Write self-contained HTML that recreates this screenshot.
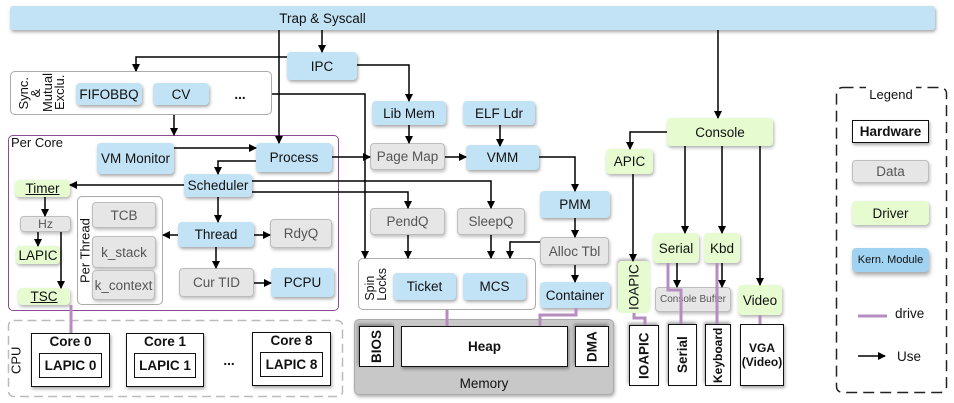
<!DOCTYPE html>
<html><head><meta charset="utf-8"><style>
body{margin:0;width:954px;height:403px;background:#fff;position:relative;overflow:hidden;font-family:"Liberation Sans",sans-serif;}
.b{position:absolute;box-sizing:border-box;display:flex;align-items:center;justify-content:center;font-size:13.5px;color:#111;border-radius:4px;white-space:nowrap;}
.k{background:#c2e3f5;box-shadow:1px 2px 3px rgba(0,0,0,.35);}
.d{background:#e6e6e6;border:1px solid #bdbdbd;color:#555;box-shadow:1px 2px 3px rgba(0,0,0,.25);}
.g{background:#e7fbd1;box-shadow:1px 2px 3px rgba(0,0,0,.3);}
.h{background:#fff;border:1.5px solid #111;border-radius:0;font-weight:bold;box-shadow:1px 2px 3px rgba(0,0,0,.35);}
.c{position:absolute;box-sizing:border-box;border-radius:5px;}
.v{writing-mode:vertical-rl;transform:rotate(180deg);}
svg{position:absolute;left:0;top:0;}
</style></head><body>
<div class="b k" style="left:10px;top:6px;width:925px;height:24px;padding-right:300px;border-radius:3px">Trap &amp; Syscall</div>

<div class="c" style="left:10px;top:71px;width:262px;height:44px;border:1px solid #aaa"></div>
<div class="b" style="left:10px;top:72px;width:64px;height:42px;font-size:13px;line-height:12px;flex-direction:row"><span class="v" style="text-align:center">Sync.<br>&amp;</span><span class="v" style="text-align:center">Mutual<br>Exclu.</span></div>
<div class="b k" style="left:76px;top:83px;width:66px;height:22px">FIFOBBQ</div>
<div class="b k" style="left:153px;top:83px;width:56px;height:22px">CV</div>
<div class="b" style="left:228px;top:83px;width:24px;height:22px;font-weight:bold">...</div>
<div class="b k" style="left:287px;top:52px;width:70px;height:28px">IPC</div>
<div class="b k" style="left:372px;top:101px;width:74px;height:24px">Lib Mem</div>
<div class="b k" style="left:463px;top:101px;width:72px;height:24px">ELF Ldr</div>

<div class="c" style="left:8px;top:135px;width:331px;height:176px;border:1.5px solid #8a4a94"></div>
<div class="b" style="left:11px;top:134px;height:16px;font-size:13px">Per Core</div>
<div class="b k" style="left:97px;top:143px;width:77px;height:31px">VM Monitor</div>
<div class="b k" style="left:256px;top:143px;width:76px;height:29px">Process</div>
<div class="b k" style="left:184px;top:174px;width:68px;height:23px">Scheduler</div>
<div class="b g" style="left:15px;top:180px;width:55px;height:17px;text-decoration:underline">Timer</div>
<div class="b d" style="left:20px;top:216px;width:51px;height:16px;font-size:12px">Hz</div>
<div class="b g" style="left:16px;top:246px;width:44px;height:18px">LAPIC</div>
<div class="b g" style="left:18px;top:288px;width:52px;height:17px;text-decoration:underline">TSC</div>
<div class="c" style="left:77px;top:196px;width:86px;height:109px;border:1px solid #aaa"></div>
<div class="b v" style="left:77px;top:196px;width:16px;height:109px;font-size:13px">Per Thread</div>
<div class="b d" style="left:92px;top:202px;width:64px;height:26px">TCB</div>
<div class="b d" style="left:92px;top:236px;width:64px;height:32px">k_stack</div>
<div class="b d" style="left:92px;top:270px;width:63px;height:30px">k_context</div>
<div class="b k" style="left:178px;top:222px;width:76px;height:25px">Thread</div>
<div class="b d" style="left:270px;top:219px;width:62px;height:29px">RdyQ</div>
<div class="b d" style="left:179px;top:268px;width:75px;height:29px">Cur TID</div>
<div class="b k" style="left:271px;top:268px;width:63px;height:29px">PCPU</div>

<div class="b d" style="left:370px;top:143px;width:75px;height:27px">Page Map</div>
<div class="b k" style="left:466px;top:145px;width:73px;height:25px">VMM</div>
<div class="b d" style="left:370px;top:208px;width:75px;height:27px">PendQ</div>
<div class="b d" style="left:457px;top:208px;width:68px;height:27px">SleepQ</div>
<div class="b k" style="left:540px;top:191px;width:70px;height:27px">PMM</div>
<div class="b d" style="left:540px;top:237px;width:69px;height:28px">Alloc Tbl</div>
<div class="b k" style="left:540px;top:282px;width:70px;height:26px">Container</div>
<div class="c" style="left:358px;top:258px;width:178px;height:52px;border:1px solid #aaa"></div>
<div class="b" style="left:359px;top:262px;width:34px;height:44px;font-size:12.5px;line-height:12px"><span class="v" style="text-align:left">Spin<br>Locks</span></div>
<div class="b k" style="left:393px;top:273px;width:63px;height:27px">Ticket</div>
<div class="b k" style="left:463px;top:273px;width:63px;height:27px">MCS</div>

<div class="b g" style="left:667px;top:118px;width:106px;height:28px">Console</div>
<div class="b g" style="left:606px;top:149px;width:47px;height:25px">APIC</div>
<div class="b g" style="left:653px;top:233px;width:46px;height:30px">Serial</div>
<div class="b g" style="left:704px;top:233px;width:36px;height:30px">Kbd</div>
<div class="b g v" style="left:618px;top:261px;width:32px;height:52px">IOAPIC</div>
<div class="b d" style="left:655px;top:287px;width:76px;height:25px;font-size:10px">Console Buffer</div>
<div class="b g" style="left:738px;top:285px;width:44px;height:30px">Video</div>

<div class="b v" style="left:8px;top:340px;width:16px;height:40px;font-size:13px">CPU</div>
<div class="b h" style="left:31px;top:333px;width:79px;height:54px;align-items:flex-start;padding-top:0">Core 0</div>
<div class="b h" style="left:39px;top:353px;width:63px;height:25px;box-shadow:none;border-width:1px">LAPIC 0</div>
<div class="b h" style="left:126px;top:333px;width:78px;height:54px;align-items:flex-start">Core 1</div>
<div class="b h" style="left:134px;top:353px;width:62px;height:25px;box-shadow:none;border-width:1px">LAPIC 1</div>
<div class="b" style="left:220px;top:350px;width:18px;height:20px;font-weight:bold">...</div>
<div class="b h" style="left:252px;top:332px;width:79px;height:54px;align-items:flex-start">Core 8</div>
<div class="b h" style="left:260px;top:352px;width:63px;height:25px;box-shadow:none;border-width:1px">LAPIC 8</div>

<div class="c" style="left:354px;top:319px;width:260px;height:76px;background:#c8c8c8;border:1px solid #aaa;box-shadow:1px 2px 3px rgba(0,0,0,.3)"></div>
<div class="b" style="left:354px;top:374px;width:260px;height:18px">Memory</div>
<div class="b h v" style="left:359px;top:326px;width:35px;height:41px">BIOS</div>
<div class="b h" style="left:401px;top:326px;width:167px;height:41px">Heap</div>
<div class="b h v" style="left:575px;top:326px;width:34px;height:41px">DMA</div>
<div class="b h v" style="left:629px;top:325px;width:30px;height:61px">IOAPIC</div>
<div class="b h v" style="left:668px;top:324px;width:29px;height:62px">Serial</div>
<div class="b h v" style="left:705px;top:324px;width:26px;height:62px;font-size:12px">Keyboard</div>
<div class="b h" style="left:740px;top:324px;width:44px;height:62px;font-size:12px;text-align:center;line-height:14px">VGA<br>(Video)</div>

<div class="b h" style="left:852px;top:120px;width:77px;height:23px">Hardware</div>
<div class="b d" style="left:852px;top:160px;width:77px;height:23px">Data</div>
<div class="b g" style="left:852px;top:201px;width:77px;height:24px">Driver</div>
<div class="b" style="left:852px;top:248px;width:77px;height:24px;background:#9fd3f1;font-size:11px;box-shadow:1px 3px 4px rgba(0,0,0,.35)">Kern. Module</div>
<div class="b" style="left:895px;top:304px;height:18px">drive</div>
<div class="b" style="left:897px;top:347px;height:18px">Use</div>

<svg width="954" height="403" viewBox="0 0 954 403">
<defs><marker id="a" markerWidth="8" markerHeight="8" refX="7" refY="4" orient="auto" markerUnits="userSpaceOnUse"><path d="M0,0L8,4L0,8z" fill="#000"/></marker></defs>
<rect x="8.5" y="320.5" width="334" height="76" rx="5" fill="none" stroke="#bbb" stroke-width="1.5" stroke-dasharray="9,5"/>
<rect x="836.5" y="87.5" width="110" height="305" rx="6" fill="none" stroke="#222" stroke-width="1.5" stroke-dasharray="11,6"/>
<rect x="866" y="86" width="50" height="3" fill="#fff"/>
<text x="891" y="99" font-size="13" text-anchor="middle" font-family="Liberation Sans, sans-serif" fill="#111">Legend</text>
<g fill="none" stroke="#000" stroke-width="1.5" marker-end="url(#a)">
<path d="M322,30V52"/><path d="M279,30V143"/><path d="M718,30V118"/>
<path d="M357,65H409V101"/><path d="M287,57H136V71"/>
<path d="M174,115V135"/><path d="M272,94H365V258"/>
<path d="M174,148H256"/><path d="M332,157H370"/>
<path d="M256,161H218V174"/><path d="M184,185H70"/>
<path d="M252,181H491V208"/><path d="M252,192H408V208"/>
<path d="M218,197V222"/><path d="M178,235H163"/><path d="M254,235H270"/>
<path d="M216,247V268"/><path d="M254,283H271"/>
<path d="M45,197V216"/><path d="M38,232V246"/><path d="M61,232V288"/>
<path d="M409,125V143"/><path d="M500,125V146"/><path d="M445,157H466"/>
<path d="M539,157H575V191"/><path d="M575,218V237"/>
<path d="M540,242H510V258"/><path d="M575,265V282"/>
<path d="M408,235V258"/><path d="M491,235V258"/>
<path d="M667,132H630V149"/><path d="M633,174V261"/>
<path d="M685,146V233"/><path d="M722,146V233"/><path d="M760,146V285"/>
<path d="M677,263V287"/><path d="M722,263V287"/>
<path d="M858,356H885"/>
</g>
<g fill="none" stroke="#b58dbf" stroke-width="3">
<path d="M71,305V333"/><path d="M447,310V326"/><path d="M576,308V315H540V326"/>
<path d="M634,313V318H645V325"/><path d="M668,263V290H681V324"/>
<path d="M717,263V324"/><path d="M760,315V324"/><path d="M858,316H887"/>
</g>
</svg>
</body></html>
